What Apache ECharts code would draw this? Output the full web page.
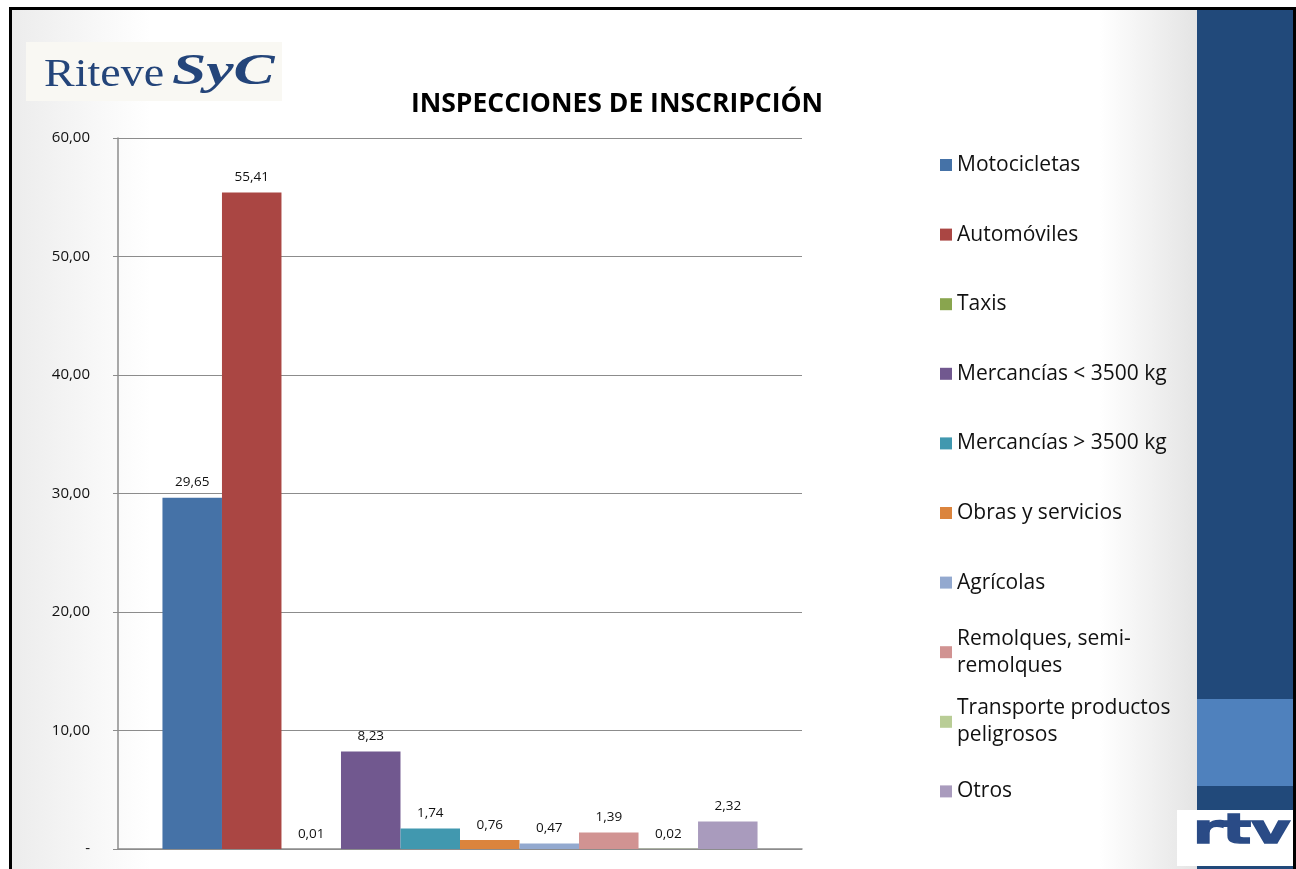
<!DOCTYPE html>
<html>
<head>
<meta charset="utf-8">
<script src="https://cdn.jsdelivr.net/npm/echarts@6/dist/echarts.min.js"></script>
<style>
  html, body { margin: 0; padding: 0; background: #fff; }
  #chart { width: 1296px; height: 869px; }
</style>
</head>
<body>
<div id="chart"></div>
<script>
// data
const seriesNames = [
  'Motocicletas', 'Automóviles', 'Taxis', 'Mercancías < 3500 kg', 'Mercancías > 3500 kg',
  'Obras y servicios', 'Agrícolas', 'Remolques, semi-\nremolques', 'Transporte productos\npeligrosos', 'Otros'
];
const seriesValues = [29.65, 55.41, 0.01, 8.23, 1.74, 0.76, 0.47, 1.39, 0.02, 2.32];
const seriesColors = ['#4572A7', '#AA4643', '#89A54E', '#71588F', '#4198AF',
  '#DB843D', '#93A9CF', '#D19392', '#B9CD96', '#A99BBD'];
const categories = [''];

const font = 'Open Sans';
const fmt = v => v.toFixed(2).replace('.', ',');
const lineH = 27;

const chart = echarts.init(document.getElementById('chart'));

// one legend per item so two-line labels keep their icon on the first line
const legends = seriesNames.map((name, i) => {
  const multi = name.indexOf('\n') >= 0;
  const center = 165 + i * 69.6;
  return {
    data: [name],
    orient: 'vertical',
    left: 940,
    top: multi ? center - lineH * 1.5 : center - lineH / 2,
    padding: 0,
    itemWidth: 12,
    itemHeight: 12,
    itemGap: 6,
    icon: 'rect',
    selectedMode: false,
    textStyle: {
      fontFamily: font,
      fontSize: 21,
      color: '#111',
      lineHeight: lineH,
      padding: multi ? [lineH, 0, 0, 0] : 0
    }
  };
});

const option = {
  backgroundColor: '#fff',
  animation: false,
  title: {
    text: 'INSPECCIONES DE INSCRIPCIÓN',
    left: 612,
    textAlign: 'center',
    top: 86,
    textStyle: { fontFamily: font, fontSize: 26.5, fontWeight: 'bold', color: '#000' }
  },
  graphic: [
    // slide background and frame
    { type: 'rect', z: -10, shape: { x: 1100, y: 9, width: 97, height: 860 },
      style: { fill: new echarts.graphic.LinearGradient(0, 0, 1, 0, [
        { offset: 0, color: '#ffffff' }, { offset: 1, color: '#e4e4e4' }]) } },
    { type: 'rect', z: -10, shape: { x: 11, y: 9, width: 140, height: 860 },
      style: { fill: new echarts.graphic.LinearGradient(0, 0, 1, 0, [
        { offset: 0, color: '#ececec' }, { offset: 1, color: '#ffffff' }]) } },
    { type: 'rect', z: -5, shape: { x: 1197, y: 9, width: 96, height: 860 }, style: { fill: '#21497A' } },
    { type: 'rect', z: -5, shape: { x: 1197, y: 699, width: 96, height: 87 }, style: { fill: '#4F81BD' } },
    { type: 'rect', z: 5, shape: { x: 9, y: 7, width: 1287, height: 3 }, style: { fill: '#000' } },
    { type: 'rect', z: 5, shape: { x: 9, y: 7, width: 3, height: 862 }, style: { fill: '#000' } },
    { type: 'rect', z: 5, shape: { x: 1293, y: 7, width: 3, height: 862 }, style: { fill: '#000' } },
    // Riteve SyC logo
    { type: 'rect', z: -4, shape: { x: 26, y: 42, width: 256, height: 59 }, style: { fill: '#f9f8f3' } },
    { type: 'text', z: 1, x: 44, y: 55, scaleX: 1.15,
      style: { text: 'Riteve', fontFamily: 'Liberation Serif', fontSize: 40, fill: '#24457a' } },
    { type: 'text', z: 1, x: 172, y: 51, scaleX: 1.4,
      style: { text: 'SyC', fontFamily: 'Liberation Serif', fontStyle: 'italic', fontWeight: 'bold', fontSize: 44, fill: '#24457a' } },
    // rtv logo
    { type: 'rect', z: 1, shape: { x: 1177, y: 810, width: 116, height: 56 }, style: { fill: '#fff' } },
    { type: 'text', z: 2, x: 1193, y: 813, scaleX: 1.5,
      style: { text: 'rtv', fontFamily: 'DejaVu Sans', fontWeight: 'bold', fontSize: 40, fill: '#2a4b86',
        stroke: '#2a4b86', lineWidth: 1.5 } }
  ],
  legend: legends,
  grid: { left: 118, right: 494, top: 138, bottom: 20 },
  xAxis: {
    type: 'category',
    data: categories,
    axisLine: { lineStyle: { color: '#8c8c8c', width: 1.5 } },
    axisTick: { show: false },
    axisLabel: { show: false }
  },
  yAxis: {
    type: 'value',
    min: 0,
    max: 60,
    interval: 10,
    axisLine: { show: true, lineStyle: { color: '#8c8c8c', width: 1.5 } },
    axisTick: { show: true, length: 5, lineStyle: { color: '#8c8c8c' } },
    splitLine: { lineStyle: { color: '#8c8c8c', width: 1 } },
    axisLabel: {
      margin: 28,
      fontFamily: font,
      fontSize: 15,
      color: '#111',
      formatter: v => (v === 0 ? '-' : fmt(v))
    }
  },
  series: seriesNames.map((name, i) => ({
    name: name,
    type: 'bar',
    data: [seriesValues[i]],
    barGap: '0%',
    barCategoryGap: '13%',
    itemStyle: { color: seriesColors[i] },
    label: {
      show: true,
      position: 'top',
      distance: 8,
      fontFamily: font,
      fontSize: 13.5,
      color: '#111',
      formatter: p => fmt(p.value)
    }
  }))
};

chart.setOption(option);
</script>
</body>
</html>
